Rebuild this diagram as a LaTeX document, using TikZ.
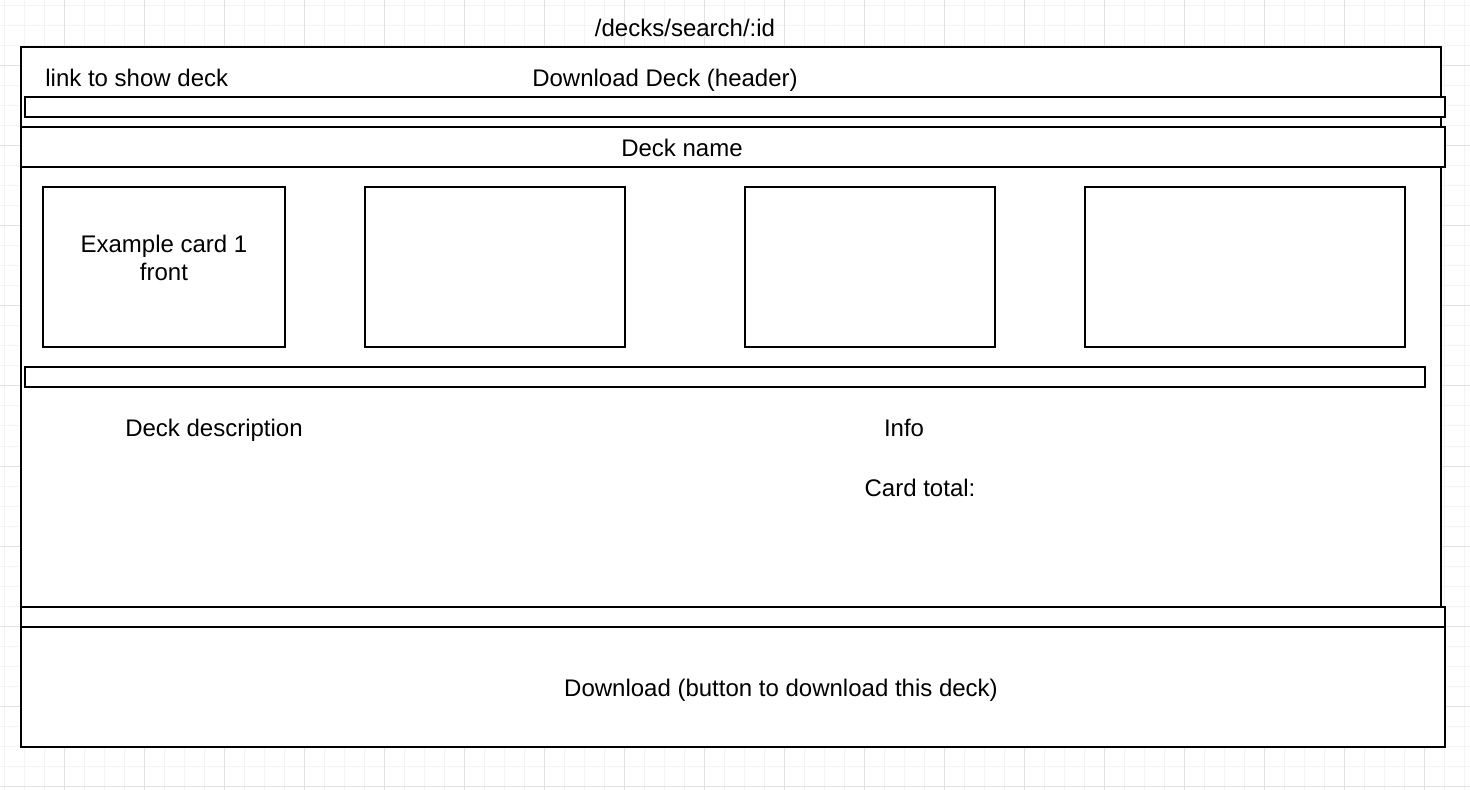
\documentclass[tikz,border=0pt]{standalone}
\usepackage{fontspec}
\setmainfont{Liberation Sans}
\usepackage{xcolor}
\usepackage{tikz}
\definecolor{gridminor}{HTML}{F4F4F4}
\definecolor{gridmajor}{HTML}{E2E2E2}

\begin{document}
\begin{tikzpicture}[x=0.5pt,y=-0.5pt,font=\fontsize{12}{14}\selectfont,
  frame/.style={draw=black,line width=1pt,fill=white},
  txt/.style={inner sep=0pt,align=center,text depth=0pt}]
\useasboundingbox (0,0) rectangle (1470,790);
\fill[white] (0,0) rectangle (1470,790);
% grid
\foreach \x in {4,24,...,1464} \draw[gridminor,line width=0.5pt] (\x,0) -- (\x,790);
\foreach \y in {6,26,...,786} \draw[gridminor,line width=0.5pt] (0,\y) -- (1470,\y);
\foreach \x in {64,144,...,1424} \draw[gridmajor,line width=0.5pt] (\x,0) -- (\x,790);
\foreach \y in {66,146,...,786} \draw[gridmajor,line width=0.5pt] (0,\y) -- (1470,\y);
\node[txt] (route) at (685,28) {/decks/search/:id};
% page
\draw[frame] (21,47) rectangle (1441,607);
\node[txt,anchor=west] (showlink) at (45,78) {link to show deck};
\node[txt] (header) at (665,78) {Download Deck (header)};
\draw[frame] (25,97) rectangle (1445,117);
\draw[frame] (21,127) rectangle (1445,167);
\node[txt] (deckname) at (682,148) {Deck name};
% cards
\draw[frame] (43,187) rectangle (285,347);
\node[txt] (card1) at (164,258) {Example card 1\\front};
\draw[frame] (365,187) rectangle (625,347);
\draw[frame] (745,187) rectangle (995,347);
\draw[frame] (1085,187) rectangle (1405,347);
\draw[frame] (25,367) rectangle (1425,387);
\node[txt] (desc) at (214,428) {Deck description};
\node[txt] (info) at (904,428) {Info};
\node[txt] (total) at (920,488) {Card total:};
% footer
\draw[frame] (21,607) rectangle (1445,627);
\draw[frame] (21,627) rectangle (1445,747);
\node[txt] (download) at (781,688) {Download (button to download this deck)};
\end{tikzpicture}
\end{document}
